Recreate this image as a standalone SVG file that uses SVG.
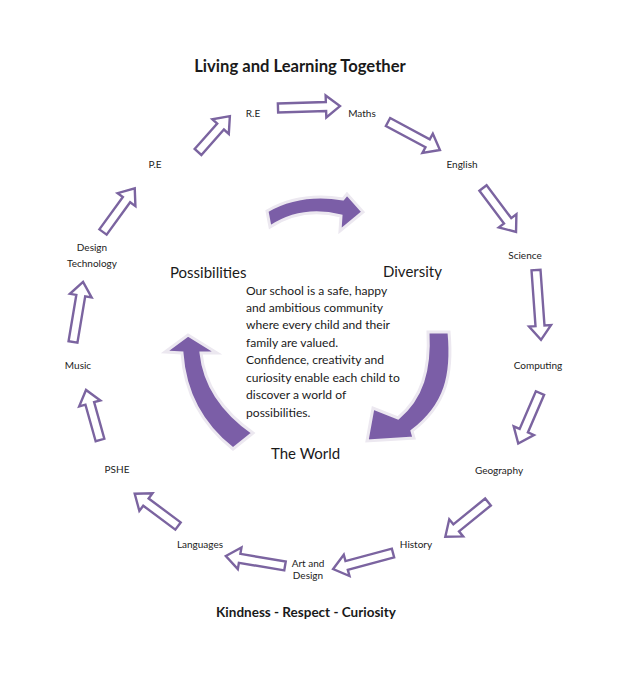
<svg xmlns="http://www.w3.org/2000/svg" width="630" height="673" viewBox="0 0 630 673">
<style>
text{font-family:Lato,"Open Sans","Liberation Sans",sans-serif;fill:#1a1a1a}
.t{font-weight:bold;font-size:16.6px;text-anchor:middle}
.lbl{font-size:10px;text-anchor:middle;fill:#222}
.big{font-size:15px}
.para{font-size:12.1px}
.oa{fill:#fff;stroke:#7b64a0;stroke-width:2.4;stroke-linejoin:miter}
.fa{fill:#7b5ea7;stroke:#ece8f0;stroke-width:3;stroke-linejoin:miter}
</style>
<rect width="630" height="673" fill="#fff"/>
<text class="t" x="300" y="72">Living and Learning Together</text>
<text class="t" x="306" y="617" style="font-size:13.5px">Kindness - Respect - Curiosity</text>

<g id="connectors">
<path class="oa" transform="translate(198,152) rotate(-48.4)" d="M0,-4.5 L34,-4.5 L34,-11 L48,0 L34,11 L34,4.5 L0,4.5 Z"/>
<path class="oa" transform="translate(278,108) rotate(-1.8)" d="M0,-4.5 L48,-4.5 L48,-11 L62,0 L48,11 L48,4.5 L0,4.5 Z"/>
<path class="oa" transform="translate(388,122) rotate(28.3)" d="M0,-4.5 L45,-4.5 L45,-11 L59,0 L45,11 L45,4.5 L0,4.5 Z"/>
<path class="oa" transform="translate(483,188) rotate(53.1)" d="M0,-4.5 L41,-4.5 L41,-11 L55,0 L41,11 L41,4.5 L0,4.5 Z"/>
<path class="oa" transform="translate(536,270) rotate(85.9)" d="M0,-4.5 L56,-4.5 L56,-11 L70,0 L56,11 L56,4.5 L0,4.5 Z"/>
<path class="oa" transform="translate(540,393) rotate(113.3)" d="M0,-4.5 L41,-4.5 L41,-11 L55,0 L41,11 L41,4.5 L0,4.5 Z"/>
<path class="oa" transform="translate(488,502) rotate(140.9)" d="M0,-4.5 L41,-4.5 L41,-11 L55,0 L41,11 L41,4.5 L0,4.5 Z"/>
<path class="oa" transform="translate(393,553) rotate(165)" d="M0,-4.5 L48,-4.5 L48,-11 L62,0 L48,11 L48,4.5 L0,4.5 Z"/>
<path class="oa" transform="translate(285,566) rotate(189.6)" d="M0,-4.5 L46,-4.5 L46,-11 L60,0 L46,11 L46,4.5 L0,4.5 Z"/>
<path class="oa" transform="translate(178,526) rotate(216.7)" d="M0,-4.5 L40,-4.5 L40,-11 L54,0 L40,11 L40,4.5 L0,4.5 Z"/>
<path class="oa" transform="translate(100,440) rotate(254.4)" d="M0,-4.5 L38,-4.5 L38,-11 L52,0 L38,11 L38,4.5 L0,4.5 Z"/>
<path class="oa" transform="translate(73,342) rotate(279.5)" d="M0,-4.5 L47,-4.5 L47,-11 L61,0 L47,11 L47,4.5 L0,4.5 Z"/>
<path class="oa" transform="translate(103,232) rotate(306)" d="M0,-4.5 L40,-4.5 L40,-11 L54,0 L40,11 L40,4.5 L0,4.5 Z"/>
<path class="fa" d="M267,211 Q300,192 343,199 L347,194 L363,212 L340,231 L341,216 Q302,206 270,227 Z"/>
<path class="fa" d="M428,332 L449,332 C453,375 446,405 412,431 L414,438 L367,441 L373,408 L398,418 C422,398 430,370 428,332 Z"/>
<path class="fa" d="M188,335 L217,353 L201,353 Q206,400 253,433 L233,449 Q186,412 182,353 L165,352 Z"/>
</g>

<g id="n-re"><text class="lbl" x="253" y="117">R.E</text></g>
<g id="n-maths"><text class="lbl" x="362" y="117">Maths</text></g>
<g id="n-english"><text class="lbl" x="462" y="168">English</text></g>
<g id="n-science"><text class="lbl" x="525" y="259">Science</text></g>
<g id="n-computing"><text class="lbl" x="538" y="369">Computing</text></g>
<g id="n-geography"><text class="lbl" x="499" y="474">Geography</text></g>
<g id="n-history"><text class="lbl" x="416" y="548">History</text></g>
<g id="n-art"><text class="lbl" x="308" y="567">Art and</text><text class="lbl" x="308" y="579">Design</text></g>
<g id="n-languages"><text class="lbl" x="200" y="548">Languages</text></g>
<g id="n-pshe"><text class="lbl" x="117" y="473">PSHE</text></g>
<g id="n-music"><text class="lbl" x="78" y="369">Music</text></g>
<g id="n-dt"><text class="lbl" x="92" y="251">Design</text><text class="lbl" x="92" y="267">Technology</text></g>
<g id="n-pe"><text class="lbl" x="155" y="168">P.E</text></g>

<g id="n-possibilities"><text class="big" x="170" y="278">Possibilities</text></g>
<g id="n-diversity"><text class="big" x="383" y="277">Diversity</text></g>
<g id="n-world"><text class="big" x="271" y="459">The World</text></g>
<g id="n-centre">
<text class="para" x="246" y="295">Our school is a safe, happy</text>
<text class="para" x="246" y="312">and ambitious community</text>
<text class="para" x="246" y="329">where every child and their</text>
<text class="para" x="246" y="347">family are valued.</text>
<text class="para" x="246" y="364">Confidence, creativity and</text>
<text class="para" x="246" y="382">curiosity enable each child to</text>
<text class="para" x="246" y="399">discover a world of</text>
<text class="para" x="246" y="417">possibilities.</text>
</g>
</svg>
